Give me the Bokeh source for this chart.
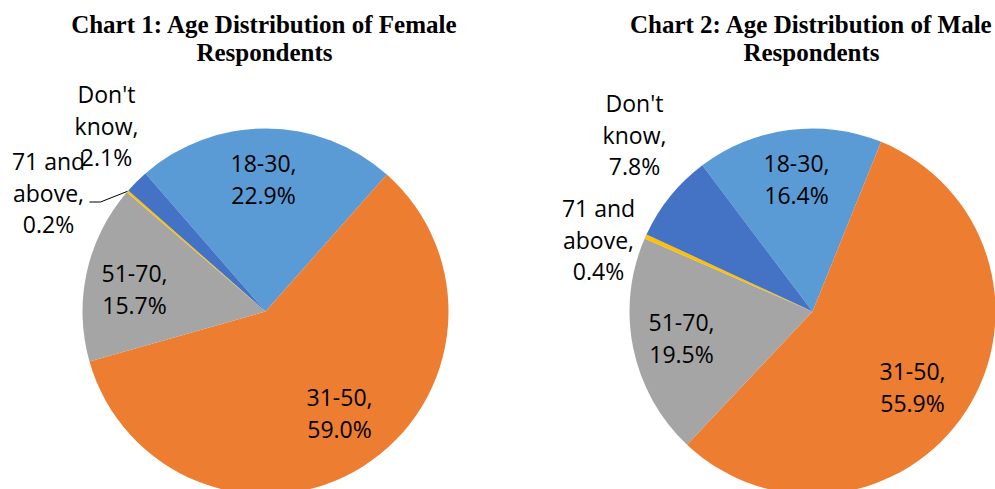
import math
from bokeh.plotting import figure
from bokeh.models import Range1d, ColumnDataSource
from bokeh.embed import file_html
from bokeh.resources import INLINE
from bokeh.core.properties import value

# ---------------- data ----------------
categories = ["18-30", "31-50", "51-70", "71 and above", "Don't know"]
female_pct = [22.9, 59.0, 15.7, 0.2, 2.1]
male_pct = [16.4, 55.9, 19.5, 0.4, 7.8]
title_female = ["Chart 1: Age Distribution of Female", "Respondents"]
title_male = ["Chart 2: Age Distribution of Male", "Respondents"]

# ---------------- style / layout ----------------
colors = ["#5B9BD5", "#ED7D31", "#A5A5A5", "#FFC000", "#4472C4"]
label_wrap = {"71 and above": "71 and\nabove", "Don't know": "Don't\nknow"}
W, H = 995, 489
R = 183
LINE_GAP = 31.5
LABEL_FONT = "Open Sans"
LABEL_PX = 23
LABEL_MID = 0.40      # em offset baseline -> "middle" anchor
TITLE_FONT = "Liberation Serif"
TITLE_PX = 25
TITLE_MID = 0.34


def fx(xp):
    return xp


def fy(yp):
    return H - yp


charts = [
    dict(values=female_pct, title=title_female, cx=265, cy=311, first=-41.0,
         title_x=264,
         label_pos=[(263, 172), (339, 406), (134, 282), (48, 170), (106, 103)],
         leader=3),
    dict(values=male_pct, title=title_male, cx=812, cy=311, first=-37.0,
         title_x=811,
         label_pos=[(796, 172), (912, 380), (681, 331), (598, 217), (634, 112)],
         leader=None),
]

p = figure(width=W, height=H, x_range=Range1d(0, W), y_range=Range1d(0, H),
           output_backend="svg", toolbar_location=None, min_border=0,
           x_axis_type=None, y_axis_type=None)
p.grid.visible = False
p.outline_line_color = None
p.background_fill_color = "white"
p.border_fill_color = "white"

for ch in charts:
    vals = ch["values"]
    total = sum(vals)
    starts, ends, mids = [], [], []
    acc = ch["first"]
    for v in vals:
        sweep = 360.0 * v / total
        s, e = acc, acc + sweep
        starts.append(math.radians(90 - s))
        ends.append(math.radians(90 - e))
        mids.append((s + e) / 2)
        acc = e
    src = ColumnDataSource(dict(
        x=[fx(ch["cx"])] * len(vals), y=[fy(ch["cy"])] * len(vals),
        start=starts, end=ends, color=colors, cat=categories))
    p.wedge(x="x", y="y", radius=R, start_angle="start", end_angle="end",
            direction="clock", fill_color="color", line_color=None, source=src)

    # data labels (one glyph per text line)
    xs, ys, texts = [], [], []
    for cat, v, (lx, ly) in zip(categories, vals, ch["label_pos"]):
        lines = (label_wrap.get(cat, cat) + ",\n" + f"{v:.1f}%").split("\n")
        for i, ln in enumerate(lines):
            xs.append(fx(lx))
            ys.append(fy(ly + i * LINE_GAP - LABEL_MID * LABEL_PX))
            texts.append(ln)
    p.text(x=xs, y=ys, text=texts, text_align="center",
           text_baseline="middle", text_font=value(LABEL_FONT),
           text_font_size=f"{LABEL_PX}px", text_color="#000000")

    # leader line for the tiny slice
    if ch["leader"] is not None:
        k = ch["leader"]
        ang = math.radians(mids[k])
        ex = ch["cx"] + R * math.sin(ang)
        ey = ch["cy"] - R * math.cos(ang)
        lx, ly = ch["label_pos"][k]
        by = ly + LINE_GAP
        p.line(x=[fx(lx + 41), fx(lx + 52), fx(ex)],
               y=[fy(by), fy(by), fy(ey)],
               line_color="#000000", line_width=1)

    # title
    p.text(x=[fx(ch["title_x"])] * 2,
           y=[fy(32 - TITLE_MID * TITLE_PX), fy(60 - TITLE_MID * TITLE_PX)],
           text=ch["title"], text_align="center", text_baseline="middle",
           text_font=value(TITLE_FONT), text_font_style="bold",
           text_font_size=f"{TITLE_PX}px", text_color="#000000")

open("out.html", "w").write(file_html(p, INLINE))
